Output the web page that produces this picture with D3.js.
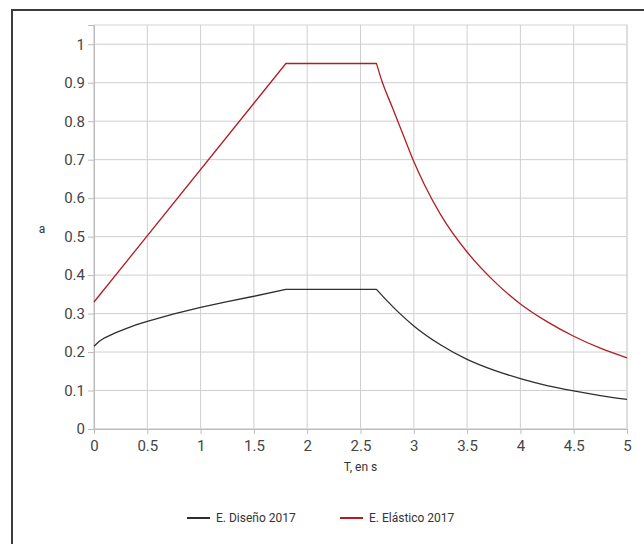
<!DOCTYPE html>
<meta charset="utf-8">
<style>
  body { margin: 0; background: #fff; }
  text { font-family: Roboto, "Noto Sans", sans-serif; }
</style>
<script src="https://d3js.org/d3.v7.min.js"></script>
<div id="chart"></div>
<script>

// spectrum values (T in s, a)
var tElastic = [0, 1.8, 2.65, 2.7, 2.8, 2.9, 3.0, 3.1, 3.25, 3.5, 3.75, 4.0, 4.25, 4.5, 4.75, 5.0];
var aElastic = [0.33, 0.95, 0.95, 0.905, 0.835, 0.765, 0.695, 0.635, 0.558, 0.46, 0.385, 0.325, 0.279, 0.241, 0.21, 0.185];

var tDesign = [0, 0.05, 0.1, 0.2, 0.3, 0.4, 0.5, 0.75, 1.0, 1.25, 1.5, 1.8, 2.65, 2.75, 2.85, 3.0, 3.25, 3.5, 3.75, 4.0, 4.25, 4.5, 4.75, 5.0];
var aDesign = [0.215, 0.228, 0.237, 0.25, 0.261, 0.271, 0.28, 0.299, 0.316, 0.331, 0.345, 0.363, 0.363, 0.333, 0.305, 0.268, 0.219, 0.181, 0.153, 0.131, 0.113, 0.099, 0.087, 0.077];

var xTicks = [0, 0.5, 1, 1.5, 2, 2.5, 3, 3.5, 4, 4.5, 5];
var yTicks = [0, 0.1, 0.2, 0.3, 0.4, 0.5, 0.6, 0.7, 0.8, 0.9, 1];

var seriesNames = ["E. Diseño 2017", "E. Elástico 2017"];
var seriesColors = ["#2e2e2e", "#b01e23"];
var plateauEnd = 2.65;

var W = 644, H = 544;
var margin = {top: 25, right: 17, bottom: 115, left: 94};
var width = W - margin.left - margin.right,
    height = H - margin.top - margin.bottom;

var root = d3.select("#chart").append("svg")
    .attr("width", W)
    .attr("height", H);

// outer frame (runs off the right / bottom edge)
root.append("rect")
    .attr("x", 12).attr("y", 10)
    .attr("width", 700).attr("height", 600)
    .attr("fill", "none")
    .attr("stroke", "#3c3c3c")
    .attr("stroke-width", 2);

var svg = root.append("g")
    .attr("transform", "translate(" + margin.left + "," + margin.top + ")");

var x = d3.scaleLinear().domain([0, 5]).range([0, width]);
var y = d3.scaleLinear().domain([0, 1.05]).range([height, 0]);

// grid
svg.append("g")
  .selectAll("line")
  .data(xTicks)
  .enter().append("line")
    .attr("x1", function(d) { return x(d); })
    .attr("x2", function(d) { return x(d); })
    .attr("y1", 0).attr("y2", height)
    .attr("stroke", "#cfcfcf");

svg.append("g")
  .selectAll("line")
  .data(yTicks)
  .enter().append("line")
    .attr("x1", 0).attr("x2", width)
    .attr("y1", function(d) { return y(d); })
    .attr("y2", function(d) { return y(d); })
    .attr("stroke", "#cfcfcf");

svg.append("rect")
    .attr("width", width).attr("height", height)
    .attr("fill", "none")
    .attr("stroke", "#d4d4d4");

// axes
var xAxis = svg.append("g")
    .attr("transform", "translate(0," + height + ")")
    .call(d3.axisBottom(x).tickValues(xTicks).tickSize(5).tickFormat(d3.format("")));
var yAxis = svg.append("g")
    .call(d3.axisLeft(y).tickValues(yTicks).tickSize(6).tickFormat(d3.format("")));

[xAxis, yAxis].forEach(function(a) {
  a.select(".domain").attr("stroke", "#bcbcbc");
  a.selectAll(".tick line").attr("stroke", "#bcbcbc");
  a.selectAll(".tick text")
    .attr("fill", "#454545")
    .attr("font-size", "15px")
    .attr("font-family", "Roboto, sans-serif");
});
xAxis.selectAll(".tick text").attr("dy", "0.95em");
yAxis.selectAll(".tick text").attr("x", -9);

// axis titles
svg.append("text")
    .attr("x", x(2.5)).attr("y", height + 42)
    .attr("text-anchor", "middle")
    .attr("font-size", "12px")
    .attr("fill", "#333")
    .text("T, en s");

svg.append("text")
    .attr("x", -52).attr("y", y(0.52) + 4)
    .attr("text-anchor", "middle")
    .attr("font-size", "12px")
    .attr("fill", "#333")
    .text("a");

// curves: straight rise + plateau, smooth decay after the plateau
var straight = d3.line()
    .x(function(d) { return x(d[0]); })
    .y(function(d) { return y(d[1]); });
var smooth = d3.line()
    .curve(d3.curveMonotoneX)
    .x(function(d) { return x(d[0]); })
    .y(function(d) { return y(d[1]); });

function drawSeries(ts, as, color) {
  var pts = ts.map(function(t, i) { return [t, as[i]]; });
  var head = pts.filter(function(p) { return p[0] <= plateauEnd; });
  var tail = pts.filter(function(p) { return p[0] >= plateauEnd; });
  svg.append("path")
    .attr("d", straight(head) + smooth(tail).replace(/^M/, "L"))
    .attr("fill", "none")
    .attr("stroke", color)
    .attr("stroke-width", 1.3)
    .attr("stroke-linejoin", "round");
}

drawSeries(tDesign, aDesign, seriesColors[0]);
drawSeries(tElastic, aElastic, seriesColors[1]);

// legend
var legendX = [187, 340];
var legend = root.append("g");
seriesNames.forEach(function(name, i) {
  legend.append("line")
    .attr("x1", legendX[i]).attr("x2", legendX[i] + 23)
    .attr("y1", 518).attr("y2", 518)
    .attr("stroke", seriesColors[i])
    .attr("stroke-width", 2);
  legend.append("text")
    .attr("x", legendX[i] + 29).attr("y", 522)
    .attr("font-size", "12px")
    .attr("fill", "#333")
    .text(name);
});
</script>
